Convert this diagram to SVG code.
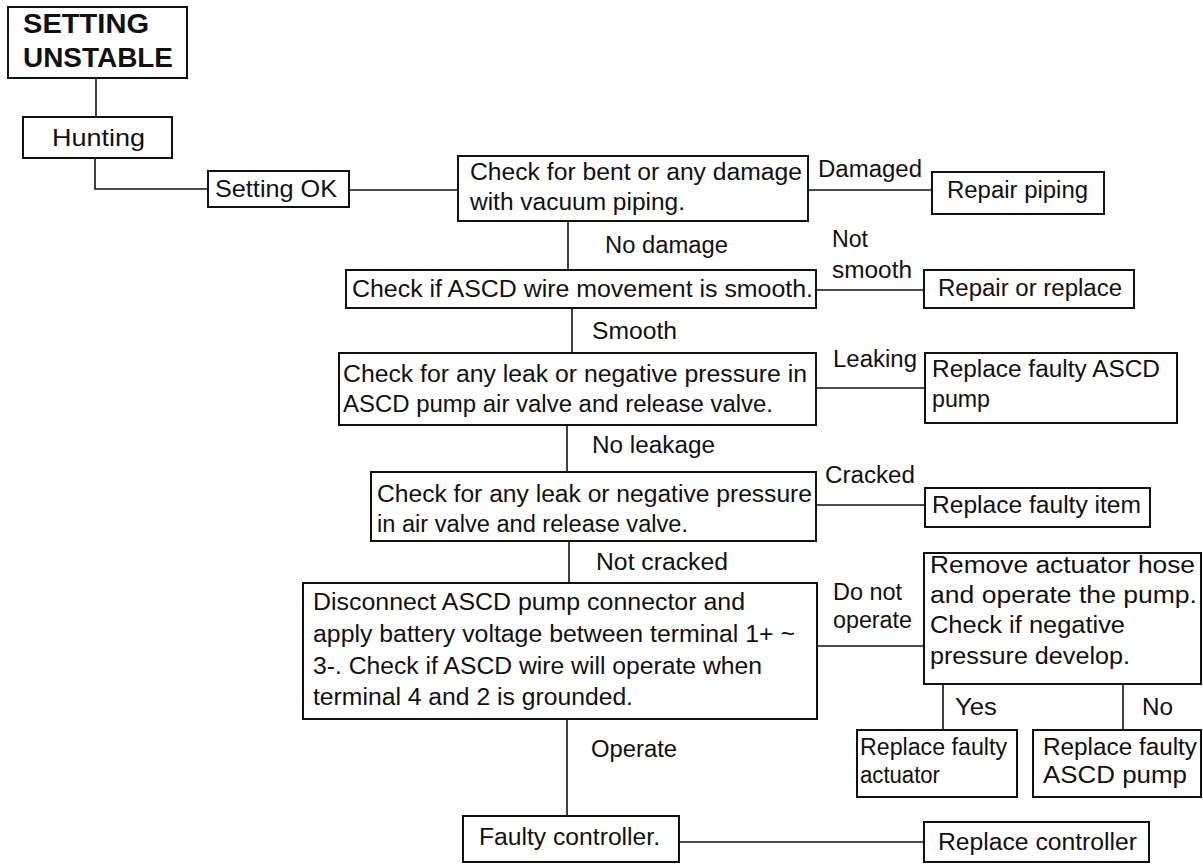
<svg xmlns="http://www.w3.org/2000/svg" width="1203" height="864" viewBox="0 0 1203 864">
<style>
.box{fill:#fff;stroke:#111;stroke-width:2}
.conn{fill:none;stroke:#111;stroke-width:1.6}
text{font-family:"Liberation Sans",Arial,Helvetica,sans-serif;font-size:23px;fill:#111}
.title{font-weight:bold;font-size:28px}
.big{font-size:24px}
</style>
<rect width="1203" height="864" fill="#fff"/>
<g id="connectors">
<path class="conn" d="M96,78 V117"/>
<path class="conn" d="M95,158 V189 H208"/>
<path class="conn" d="M349,190 H458"/>
<path class="conn" d="M808,190 H932"/>
<path class="conn" d="M568,221 V270"/>
<path class="conn" d="M816,290 H924"/>
<path class="conn" d="M572,308 V353"/>
<path class="conn" d="M816,388 H925"/>
<path class="conn" d="M567,425 V472"/>
<path class="conn" d="M816,505 H925"/>
<path class="conn" d="M569,541 V583"/>
<path class="conn" d="M817,646 H924"/>
<path class="conn" d="M943,684 V730"/>
<path class="conn" d="M1123,684 V730"/>
<path class="conn" d="M567,719 V816"/>
<path class="conn" d="M679,842 H924"/>
<text x="818" y="177" textLength="104" lengthAdjust="spacingAndGlyphs">Damaged</text>
<text x="605" y="253" textLength="123" lengthAdjust="spacingAndGlyphs">No damage</text>
<text x="832" y="247" textLength="36" lengthAdjust="spacingAndGlyphs">Not</text>
<text x="832" y="278" textLength="80" lengthAdjust="spacingAndGlyphs">smooth</text>
<text x="592" y="339" textLength="85" lengthAdjust="spacingAndGlyphs">Smooth</text>
<text x="833" y="367" textLength="84" lengthAdjust="spacingAndGlyphs">Leaking</text>
<text x="592" y="453" textLength="123" lengthAdjust="spacingAndGlyphs">No leakage</text>
<text x="825" y="483" textLength="90" lengthAdjust="spacingAndGlyphs">Cracked</text>
<text x="596" y="570" textLength="132" lengthAdjust="spacingAndGlyphs">Not cracked</text>
<text x="833" y="600" textLength="69" lengthAdjust="spacingAndGlyphs">Do not</text>
<text x="833" y="628" textLength="79" lengthAdjust="spacingAndGlyphs">operate</text>
<text x="591" y="757" textLength="86" lengthAdjust="spacingAndGlyphs">Operate</text>
<text x="955" y="715" textLength="42" lengthAdjust="spacingAndGlyphs">Yes</text>
<text x="1142" y="715" textLength="31" lengthAdjust="spacingAndGlyphs">No</text>
</g>
<g id="n-setting-unstable">
<rect class="box" x="8" y="7" width="179" height="71"/>
<text class="title" x="23" y="33" textLength="126" lengthAdjust="spacingAndGlyphs">SETTING</text>
<text class="title" x="23" y="67" textLength="150" lengthAdjust="spacingAndGlyphs">UNSTABLE</text>
</g>
<g id="n-hunting">
<rect class="box" x="23" y="117" width="149" height="41"/>
<text class="big" x="52" y="146" textLength="93" lengthAdjust="spacingAndGlyphs">Hunting</text>
</g>
<g id="n-setting-ok">
<rect class="box" x="208" y="171" width="141" height="36"/>
<text class="big" x="215" y="197" textLength="122" lengthAdjust="spacingAndGlyphs">Setting OK</text>
</g>
<g id="n-check-piping">
<rect class="box" x="458" y="156" width="350" height="65"/>
<text x="470" y="180" textLength="332" lengthAdjust="spacingAndGlyphs">Check for bent or any damage</text>
<text x="470" y="210" textLength="215" lengthAdjust="spacingAndGlyphs">with vacuum piping.</text>
</g>
<g id="n-repair-piping">
<rect class="box" x="932" y="172" width="172" height="42"/>
<text x="947" y="198" textLength="141" lengthAdjust="spacingAndGlyphs">Repair piping</text>
</g>
<g id="n-check-wire">
<rect class="box" x="346" y="270" width="470" height="38"/>
<text x="352" y="297" textLength="461" lengthAdjust="spacingAndGlyphs">Check if ASCD wire movement is smooth.</text>
</g>
<g id="n-repair-replace">
<rect class="box" x="924" y="270" width="210" height="38"/>
<text x="938" y="296" textLength="184" lengthAdjust="spacingAndGlyphs">Repair or replace</text>
</g>
<g id="n-check-leak1">
<rect class="box" x="339" y="353" width="477" height="72"/>
<text x="343" y="382" textLength="464" lengthAdjust="spacingAndGlyphs">Check for any leak or negative pressure in</text>
<text x="343" y="412" textLength="430" lengthAdjust="spacingAndGlyphs">ASCD pump air valve and release valve.</text>
</g>
<g id="n-replace-pump1">
<rect class="box" x="925" y="353" width="252" height="70"/>
<text x="932" y="377" textLength="228" lengthAdjust="spacingAndGlyphs">Replace faulty ASCD</text>
<text x="932" y="407" textLength="58" lengthAdjust="spacingAndGlyphs">pump</text>
</g>
<g id="n-check-leak2">
<rect class="box" x="371" y="472" width="445" height="69"/>
<text x="377" y="502" textLength="435" lengthAdjust="spacingAndGlyphs">Check for any leak or negative pressure</text>
<text x="377" y="532" textLength="311" lengthAdjust="spacingAndGlyphs">in air valve and release valve.</text>
</g>
<g id="n-replace-item">
<rect class="box" x="925" y="488" width="225" height="39"/>
<text x="932" y="513" textLength="209" lengthAdjust="spacingAndGlyphs">Replace faulty item</text>
</g>
<g id="n-disconnect">
<rect class="box" x="303" y="583" width="514" height="136"/>
<text x="313" y="610" textLength="432" lengthAdjust="spacingAndGlyphs">Disconnect ASCD pump connector and</text>
<text x="313" y="642" textLength="482" lengthAdjust="spacingAndGlyphs">apply battery voltage between terminal 1+ ~</text>
<text x="313" y="674" textLength="449" lengthAdjust="spacingAndGlyphs">3-. Check if ASCD wire will operate when</text>
<text x="313" y="705" textLength="320" lengthAdjust="spacingAndGlyphs">terminal 4 and 2 is grounded.</text>
</g>
<g id="n-remove-hose">
<rect class="box" x="924" y="553" width="277" height="131"/>
<text x="930" y="573" textLength="265" lengthAdjust="spacingAndGlyphs">Remove actuator hose</text>
<text x="930" y="603" textLength="267" lengthAdjust="spacingAndGlyphs">and operate the pump.</text>
<text x="930" y="633" textLength="195" lengthAdjust="spacingAndGlyphs">Check if  negative</text>
<text x="930" y="664" textLength="200" lengthAdjust="spacingAndGlyphs">pressure develop.</text>
</g>
<g id="n-replace-actuator">
<rect class="box" x="857" y="730" width="160" height="67"/>
<text x="860" y="755" textLength="147" lengthAdjust="spacingAndGlyphs">Replace faulty</text>
<text x="860" y="783" textLength="80" lengthAdjust="spacingAndGlyphs">actuator</text>
</g>
<g id="n-replace-pump2">
<rect class="box" x="1033" y="730" width="168" height="67"/>
<text x="1043" y="755" textLength="154" lengthAdjust="spacingAndGlyphs">Replace faulty</text>
<text x="1043" y="783" textLength="144" lengthAdjust="spacingAndGlyphs">ASCD pump</text>
</g>
<g id="n-faulty-controller">
<rect class="box" x="463" y="816" width="216" height="46"/>
<text x="479" y="845" textLength="181" lengthAdjust="spacingAndGlyphs">Faulty controller.</text>
</g>
<g id="n-replace-controller">
<rect class="box" x="924" y="822" width="225" height="40"/>
<text x="938" y="850" textLength="199" lengthAdjust="spacingAndGlyphs">Replace controller</text>
</g>
</svg>
